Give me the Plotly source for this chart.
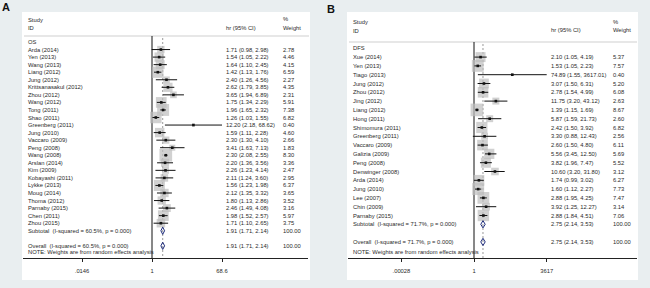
import math
import plotly.graph_objects as go

W, H = 650, 288

# ---------------- Panel A data (OS) ----------------
a_group = "OS"
a_studies = ["Arda (2014)", "Yen (2013)", "Wang (2013)", "Liang (2012)", "Jung (2012)",
             "Krittsanasakul (2012)", "Zhou (2012)", "Wang (2012)", "Tong (2011)", "Shao (2011)",
             "Greenberg (2011)", "Jung (2010)", "Vaccaro (2009)", "Peng (2008)", "Wang (2008)",
             "Arslan (2014)", "Kim (2009)", "Kobayashi (2011)", "Lykke (2013)", "Moug (2014)",
             "Thoma (2012)", "Parnaby (2015)", "Chen (2011)", "Zhou (2015)"]
a_hr = [1.71, 1.54, 1.64, 1.42, 2.40, 2.62, 3.65, 1.75, 1.96, 1.26, 12.20, 1.59, 2.30, 3.41,
        2.30, 2.20, 2.26, 2.11, 1.56, 2.12, 1.80, 2.46, 1.98, 1.71]
a_lo = [0.98, 1.05, 1.10, 1.13, 1.26, 1.79, 1.94, 1.34, 1.65, 1.03, 2.18, 1.11, 1.30, 1.63,
        2.08, 1.36, 1.23, 1.24, 1.23, 1.35, 1.13, 1.49, 1.52, 1.10]
a_hi = [2.98, 2.22, 2.45, 1.76, 4.56, 3.85, 6.89, 2.29, 2.32, 1.55, 68.62, 2.28, 4.10, 7.13,
        2.55, 3.56, 4.14, 3.60, 1.98, 3.32, 2.86, 4.08, 2.57, 2.65]
a_wt = [2.78, 4.46, 4.15, 6.59, 2.27, 4.35, 2.31, 5.91, 7.38, 6.82, 0.40, 4.60, 2.66, 1.83,
        8.30, 3.36, 2.47, 2.95, 6.37, 3.65, 3.52, 3.16, 5.97, 3.75]
a_pooled = [1.91, 1.71, 2.14]
a_i2 = "60.5%"
a_tickvals = [0.0146, 1, 68.6]
a_ticktext = [".0146", "1", "68.6"]

# ---------------- Panel B data (DFS) ----------------
b_group = "DFS"
b_studies = ["Xue (2014)", "Yen (2013)", "Tiago (2013)", "Jung (2012)", "Zhou (2012)",
             "Jing (2012)", "Liang (2012)", "Hong (2011)", "Shimomura (2011)", "Greenberg (2011)",
             "Vaccaro (2009)", "Galizia (2009)", "Peng (2008)", "Denwinger (2008)", "Arda (2014)",
             "Jung (2010)", "Lee (2007)", "Chin (2009)", "Parnaby (2015)"]
b_hr = [2.10, 1.53, 74.89, 3.07, 2.78, 11.75, 1.39, 5.87, 2.42, 3.30, 2.60, 5.56, 3.82, 10.60,
        1.74, 1.60, 2.88, 3.92, 2.88]
b_lo = [1.05, 1.05, 1.55, 1.50, 1.54, 3.20, 1.15, 1.59, 1.50, 0.88, 1.50, 3.45, 1.96, 3.20,
        0.99, 1.12, 1.95, 1.25, 1.84]
b_hi = [4.19, 2.23, 3617.01, 6.31, 4.99, 43.12, 1.69, 21.73, 3.92, 12.43, 4.80, 12.50, 7.47,
        31.80, 3.02, 2.27, 4.25, 12.27, 4.51]
b_wt = [5.37, 7.57, 0.40, 5.20, 6.08, 2.63, 8.67, 2.60, 6.82, 2.56, 6.11, 5.69, 5.52, 3.12,
        6.27, 7.73, 7.47, 3.14, 7.06]
b_pooled = [2.75, 2.14, 3.53]
b_i2 = "71.7%"
b_tickvals = [0.00028, 1, 3617]
b_ticktext = [".00028", "1", "3617"]

# ---------------- layout constants (pixels) ----------------
BG = "#e9eef0"
TXT = "#2a2a2a"
FONT = "Liberation Sans, Arial, sans-serif"
FS = 5.8
BOXC = "#bdbdbd"
DIAC = "#1c2a7a"

panels = [
    dict(group=a_group, studies=a_studies, hr=a_hr, lo=a_lo, hi=a_hi, wt=a_wt, pooled=a_pooled,
         i2=a_i2, tv=a_tickvals, tt=a_ticktext, xa="x", xkey="xaxis",
         box=(22, 12, 310, 280), axl=23, axr=308, one=152, ppd=38.12,
         lab_x=27, hr_x=225, wt_x=281.5, study_y=20, id_y=28, pct_y=19, hdr_y=28,
         line_y=36, y0=42.0, step=7.55, kbox=4.4, letter="A", letter_x=1, letter_y=7),
    dict(group=b_group, studies=b_studies, hr=b_hr, lo=b_lo, hi=b_hi, wt=b_wt, pooled=b_pooled,
         i2=b_i2, tv=b_tickvals, tt=b_ticktext, xa="x2", xkey="xaxis2",
         box=(347, 12, 638, 280), axl=348, axr=637, one=474, ppd=20.43,
         lab_x=352, hr_x=550, wt_x=611.5, study_y=22, id_y=31, pct_y=21.5, hdr_y=30,
         line_y=42, y0=48.3, step=8.8, kbox=4.3, letter="B", letter_x=326, letter_y=9),
]

AXIS_Y = 258
NOTE_Y = 252

fig = go.Figure()
shapes = []
annotations = []


def ann(x, y, text, size=FS, color=TXT, bold=False):
    annotations.append(dict(
        x=x / W, xref="paper", y=y, yref="y", text=("<b>%s</b>" % text) if bold else text,
        showarrow=False, xanchor="left", yanchor="middle", borderpad=0,
        font=dict(family=FONT, size=size, color=color)))


def fmt(h, l, u):
    return "%.2f (%.2f, %.2f)" % (h, l, u)


for p in panels:
    x0, y0b, x1, y1b = p["box"]
    shapes.append(dict(type="rect", xref="paper", yref="paper",
                       x0=x0 / W, x1=x1 / W, y0=1 - y1b / H, y1=1 - y0b / H,
                       fillcolor="white", line=dict(width=0), layer="below"))
    # header separator
    shapes.append(dict(type="line", xref="paper", yref="y",
                       x0=(x0 + 2) / W, x1=(x1 - 1) / W, y0=p["line_y"], y1=p["line_y"],
                       line=dict(color="#cfcfcf", width=1), layer="below"))

    n = len(p["studies"])
    rows = [p["y0"] + (i + 1) * p["step"] for i in range(n)]
    sub_y = p["y0"] + (n + 1) * p["step"]
    ov_y = p["y0"] + (n + 3) * p["step"]
    xa = p["xa"]
    ya = "y"

    # reference line at 1 and dashed overall line
    fig.add_trace(go.Scatter(x=[1, 1], y=[p["line_y"], AXIS_Y], mode="lines",
                             line=dict(color="#111111", width=1), xaxis=xa, yaxis=ya,
                             hoverinfo="skip", showlegend=False))
    fig.add_trace(go.Scatter(x=[p["pooled"][0], p["pooled"][0]], y=[p["line_y"] + 2, AXIS_Y],
                             mode="lines", line=dict(color="#9a9a9a", width=1, dash="2px,2px"),
                             xaxis=xa, yaxis=ya, hoverinfo="skip", showlegend=False))
    # weight boxes
    fig.add_trace(go.Scatter(x=p["hr"], y=rows, mode="markers",
                             marker=dict(symbol="square", color=BOXC,
                                         size=[p["kbox"] * math.sqrt(w) for w in p["wt"]],
                                         line=dict(width=0)),
                             xaxis=xa, yaxis=ya, hoverinfo="skip", showlegend=False))
    # CI lines
    cx, cy = [], []
    for l, u, r in zip(p["lo"], p["hi"], rows):
        cx += [l, u, None]
        cy += [r, r, None]
    fig.add_trace(go.Scatter(x=cx, y=cy, mode="lines", line=dict(color="#111111", width=1),
                             xaxis=xa, yaxis=ya, hoverinfo="skip", showlegend=False))
    # point estimates
    fig.add_trace(go.Scatter(x=p["hr"], y=rows, mode="markers",
                             marker=dict(symbol="square", color="#111111", size=2.6),
                             xaxis=xa, yaxis=ya, hoverinfo="skip", showlegend=False))
    # diamonds
    est, l, u = p["pooled"]
    for yy in (sub_y, ov_y):
        fig.add_trace(go.Scatter(x=[l, est, u, est, l], y=[yy, yy - 3.6, yy, yy + 3.6, yy],
                                 mode="lines", line=dict(color=DIAC, width=1),
                                 xaxis=xa, yaxis=ya, hoverinfo="skip", showlegend=False))

    # x axis
    lo_r = (p["axl"] - p["one"]) / p["ppd"]
    hi_r = (p["axr"] - p["one"]) / p["ppd"]
    fig.update_layout({p["xkey"]: dict(
        type="log", range=[lo_r, hi_r], domain=[p["axl"] / W, p["axr"] / W],
        anchor="free", position=1 - AXIS_Y / H, showline=True, linecolor="#222222",
        linewidth=1, ticks="outside", ticklen=3, tickcolor="#222222", tickwidth=1,
        tickvals=p["tv"], ticktext=p["tt"], showgrid=False, zeroline=False,
        tickfont=dict(family=FONT, size=FS, color=TXT), ticklabelstandoff=4,
        fixedrange=True)})

    # texts
    ann(p["letter_x"], p["letter_y"], p["letter"], size=11, color="#111111", bold=True)
    ann(p["lab_x"], p["study_y"], "Study")
    ann(p["lab_x"], p["id_y"], "ID")
    ann(p["hr_x"], p["hdr_y"], "hr (95% CI)")
    ann(p["wt_x"], p["pct_y"], "%")
    ann(p["wt_x"], p["hdr_y"], "Weight")
    ann(p["lab_x"], p["y0"], p["group"])
    for s, h, l2, u2, w, r in zip(p["studies"], p["hr"], p["lo"], p["hi"], p["wt"], rows):
        ann(p["lab_x"], r, s)
        ann(p["hr_x"], r, fmt(h, l2, u2))
        ann(p["wt_x"], r, "%.2f" % w)
    ann(p["lab_x"], sub_y, "Subtotal\u00a0 (I-squared = %s, p = 0.000)" % p["i2"])
    ann(p["hr_x"], sub_y, fmt(est, l, u))
    ann(p["wt_x"], sub_y, "100.00")
    ann(p["lab_x"], ov_y, "Overall\u00a0 (I-squared = %s, p = 0.000)" % p["i2"])
    ann(p["hr_x"], ov_y, fmt(est, l, u))
    ann(p["wt_x"], ov_y, "100.00")
    ann(p["lab_x"], NOTE_Y, "NOTE: Weights are from random effects analysis")

fig.update_layout(
    width=W, height=H, margin=dict(l=0, r=0, t=0, b=0),
    paper_bgcolor=BG, plot_bgcolor="rgba(0,0,0,0)",
    showlegend=False,
    xaxis3=dict(range=[0, W], domain=[0, 1], visible=False, fixedrange=True),
    yaxis=dict(range=[H, 0], domain=[0, 1], visible=False, anchor="x3", fixedrange=True),
    shapes=shapes, annotations=annotations,
)

fig.write_html("out.html", post_script="document.body.style.margin='0';",
               config={"displayModeBar": False})
